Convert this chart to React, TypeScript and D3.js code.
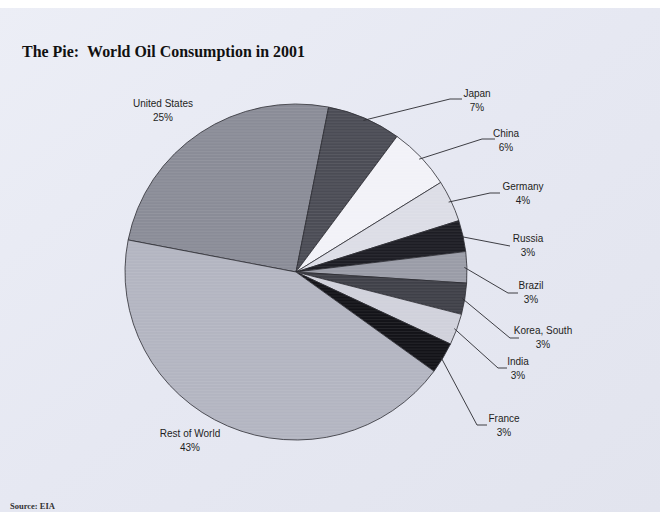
import React from "react";
import * as d3 from "d3";

const countries = ["United States", "Japan", "China", "Germany", "Russia", "Brazil", "Korea, South", "India", "France", "Rest of World"];
const shares = [25, 7, 6, 4, 3, 3, 3, 3, 3, 43];
const percentLabels = ["25%", "7%", "6%", "4%", "3%", "3%", "3%", "3%", "3%", "43%"];
const sliceColors = ["#8a8c97", "#4b4c55", "#f2f2f8", "#dcdde6", "#1d1d24", "#9a9ca7", "#3f4048", "#d0d1db", "#131318", "#b3b5c1"];

// label layout: [text center x, first-line baseline y, elbow x, elbow y, end x] ; null = no leader
const labelLayout: ([number, number, number | null, number | null, number | null])[] = [
  [163, 107, null, null, null],
  [477, 97, 450, 99, 462],
  [506, 137, 482, 139, 495],
  [523, 190, 490, 193, 500],
  [528, 242, null, 246, 510],
  [531, 289, 508, 293, 518],
  [543, 334, 510, 338, 519],
  [518, 365, 498, 368, 507],
  [504, 422, 477, 425, 487],
  [190, 437, null, null, null],
];

export default function App() {
  const W = 660, H = 512;
  const cx = 296, cy = 272;
  const rx = 171, ry = 168;
  const startDeg = -79;
  const pie = d3.pie<number>().sort(null).value((d) => d)
    .startAngle((startDeg * Math.PI) / 180)
    .endAngle(((startDeg + 360) * Math.PI) / 180);
  const arcs = pie(shares);
  const arc = d3.arc<d3.PieArcDatum<number>>().innerRadius(0).outerRadius(rx);

  return (
    <svg width={W} height={H} style={{ position: "absolute", left: 0, top: 0 }}>
      <defs>
        <pattern id="scan" width="4" height="3" patternUnits="userSpaceOnUse">
          <rect width="4" height="1" fill="#ffffff" opacity="0.08" />
        </pattern>
        <linearGradient id="paper" x1="0" y1="0" x2="1" y2="1">
          <stop offset="0" stopColor="#eceef6" />
          <stop offset="0.5" stopColor="#e6e8f2" />
          <stop offset="1" stopColor="#e2e4ee" />
        </linearGradient>
      </defs>
      <rect width={W} height={H} fill="url(#paper)" />
      <rect width={W} height={8} fill="#ffffff" />
      <text x={22} y={57} fontFamily="'Liberation Serif', 'Times New Roman', serif" fontWeight="bold" fontSize={16.5} fill="#111" textLength={283} lengthAdjust="spacingAndGlyphs">
        The Pie:{"\u00a0\u00a0"}World Oil Consumption in 2001
      </text>
      <g transform={`translate(${cx},${cy}) scale(1,${ry / rx})`}>
        {arcs.map((a, i) => (
          <path key={countries[i]} d={arc(a) || ""} fill={sliceColors[i]} stroke="#2a2a30" strokeWidth={0.8} />
        ))}
        {arcs.map((a, i) => (
          <path key={"t" + i} d={arc(a) || ""} fill="url(#scan)" />
        ))}
      </g>
      {arcs.map((a, i) => {
        const [tx, ty, ex, ey, endX] = labelLayout[i];
        const mid = (a.startAngle + a.endAngle) / 2;
        const sx = cx + Math.sin(mid) * rx * 0.985;
        const sy = cy - Math.cos(mid) * ry * 0.985;
        let leader = null;
        if (endX !== null && ey !== null) {
          const pts = ex !== null ? `${sx},${sy} ${ex},${ey} ${endX},${ey}` : `${sx},${sy} ${endX},${ey}`;
          leader = <polyline points={pts} fill="none" stroke="#2a2a30" strokeWidth={0.9} />;
        }
        return (
          <g key={"l" + i}>
            {leader}
            <text x={tx} y={ty} textAnchor="middle" fontFamily="'Liberation Sans', Arial, sans-serif" fontSize={10} fill="#1e1e22">
              {countries[i]}
            </text>
            <text x={tx} y={ty + 14} textAnchor="middle" fontFamily="'Liberation Sans', Arial, sans-serif" fontSize={10} fill="#1e1e22">
              {percentLabels[i]}
            </text>
          </g>
        );
      })}
      <text x={10} y={509} fontFamily="'Liberation Serif', 'Times New Roman', serif" fontWeight="bold" fontSize={8.5} fill="#333">
        Source: EIA
      </text>
    </svg>
  );
}
